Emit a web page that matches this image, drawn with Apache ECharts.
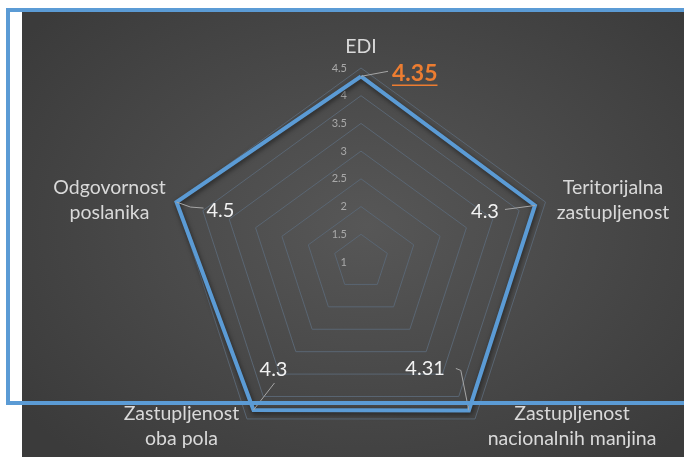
<!DOCTYPE html>
<html><head><meta charset="utf-8">
<script src="https://cdn.jsdelivr.net/npm/echarts@6/dist/echarts.min.js"></script>
<style>
html,body{margin:0;padding:0;width:684px;height:457px;overflow:hidden;background:#fff;}
#bg{position:absolute;left:22px;top:12px;width:662px;height:445px;background:radial-gradient(ellipse 65% 70% at 52% 48%, #575757 0%, #3b3b3b 100%);}
#chart{position:absolute;left:0;top:0;width:684px;height:457px;}
#frame{position:absolute;left:6px;top:8px;width:720px;height:397px;border:4px solid #5b9bd5;box-sizing:border-box;}
</style></head><body>
<div id="bg"></div><div id="chart"></div><div id="frame"></div>
<script>
// ---- data ----
const categories = ['EDI', 'Odgovornost\nposlanika', 'Zastupljenost\noba pola', 'Zastupljenost\nnacionalnih manjina', 'Teritorijalna\nzastupljenost'];
const values = [4.35, 4.5, 4.3, 4.31, 4.3];
const valueLabels = ['4.35', '4.5', '4.3', '4.31', '4.3'];
const axisMin = 1;
const axisMax = 4.5;
const axisStep = 0.5;

// ---- styling (pixel offsets relative to the data point / outer ring vertex) ----
const labelStyle = [
  {lead: [[0, 0], [27, -5]], text: [31, -3], align: 'left', color: '#ed7d31', font: 'bold 23px Lato', underline: true, name: [0, -21]},
  {lead: [[0, 0], [14, 5], [27, 6]], text: [30, 8], align: 'left', name: [-67, -2]},
  {lead: [[0, 0], [21, -27]], text: [20, -40], align: 'center', name: [-65.5, 7]},
  {lead: [[0, 0], [-8, -40], [-13, -42]], text: [-24, -42], align: 'right', name: [97, 7]},
  {lead: [[0, 0], [-30, 4]], text: [-36, 6], align: 'right', name: [67.5, -2]}
];
const CENTER = [361, 262];
const RADIUS = 194;

const measureCtx = document.createElement('canvas').getContext('2d');
function textWidth(t, font) { measureCtx.font = font; return measureCtx.measureText(t).width; }

const chart = echarts.init(document.getElementById('chart'), null, {renderer: 'canvas'});
const nSplit = Math.round((axisMax - axisMin) / axisStep);
const option = {
  animation: false,
  backgroundColor: 'transparent',
  radar: {
    center: CENTER,
    radius: RADIUS,
    startAngle: 90,
    splitNumber: nSplit,
    shape: 'polygon',
    axisName: {show: false},
    axisLine: {show: false},
    axisTick: {show: false},
    splitArea: {show: false},
    splitLine: {lineStyle: {color: '#5a6673', width: 1}},
    axisLabel: {show: false},
    indicator: categories.map((c, i) => {
      const o = {name: c, min: axisMin, max: axisMax};
      if (i === 0) o.axisLabel = {show: true, color: '#a9a9a9', fontSize: 11, fontFamily: 'Lato', margin: 14,
        formatter: v => String(+v.toFixed(1))};
      return o;
    })
  },
  polar: {center: CENTER, radius: RADIUS},
  angleAxis: {type: 'value', min: 0, max: 360, startAngle: 90, clockwise: false, show: false},
  radiusAxis: {type: 'value', min: axisMin, max: axisMax, show: false},
  series: [
    {
      type: 'radar',
      symbol: 'none',
      silent: true,
      lineStyle: {color: '#5b9bd5', width: 4, join: 'miter', shadowColor: 'rgba(0,0,0,0.55)', shadowBlur: 5, shadowOffsetY: 2, shadowOffsetX: 1},
      data: [{value: values, name: 'EDI'}]
    },
    {
      type: 'custom',
      coordinateSystem: 'polar',
      silent: true,
      data: values.map((v, i) => [v, i * 360 / categories.length]),
      renderItem: function (params, api) {
        const i = params.dataIndex;
        const s = labelStyle[i];
        const p = api.coord([api.value(0), api.value(1)]);
        const m = api.coord([axisMax, api.value(1)]);
        const children = [];
        children.push({
          type: 'polyline',
          shape: {points: s.lead.map(d => [p[0] + d[0], p[1] + d[1]])},
          style: {stroke: '#a6a6a6', lineWidth: 1, fill: null}
        });
        const font = s.font || '20px Lato';
        const tx = p[0] + s.text[0], ty = p[1] + s.text[1];
        children.push({
          type: 'text',
          style: {text: valueLabels[i], x: tx, y: ty, align: s.align, verticalAlign: 'middle', fill: s.color || '#f2f2f2', font: font}
        });
        if (s.underline) {
          const w = textWidth(valueLabels[i], font);
          const x0 = s.align === 'left' ? tx : (s.align === 'right' ? tx - w : tx - w / 2);
          children.push({type: 'line', shape: {x1: x0, y1: ty + 12, x2: x0 + w, y2: ty + 12}, style: {stroke: s.color, lineWidth: 1.5}});
        }
        children.push({
          type: 'text',
          style: {text: categories[i], x: m[0] + s.name[0], y: m[1] + s.name[1], align: 'center', verticalAlign: 'middle',
            fill: '#d9d9d9', font: '19.5px Lato', lineHeight: 25}
        });
        return {type: 'group', children: children};
      }
    }
  ]
};
chart.setOption(option);
</script>
</body></html>
